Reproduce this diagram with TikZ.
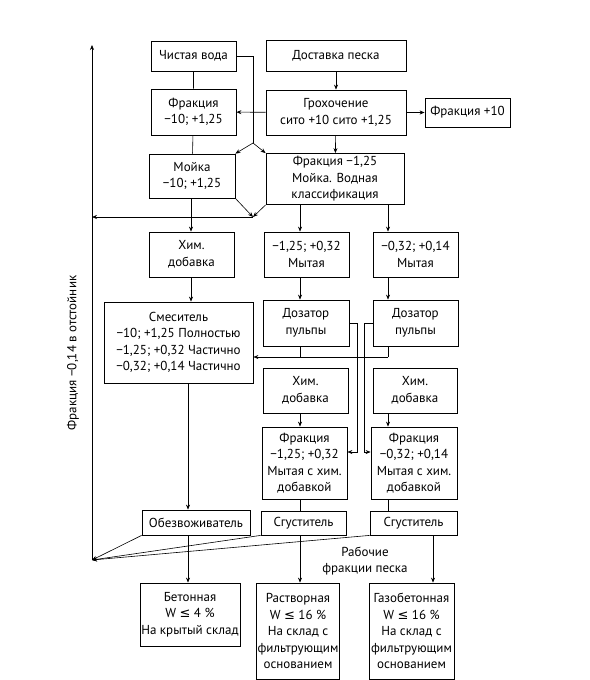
\documentclass[tikz,border=0pt]{standalone}
\usepackage{fontspec}
\setmainfont{PT Sans}
\newfontfamily\symfont{DejaVu Sans}
\usetikzlibrary{arrows.meta, calc}
\newcommand{\lesign}{{\symfont ≤}}

\begin{document}
\begin{tikzpicture}[x=1pt,y=-1pt,font=\fontsize{13}{16.5}\selectfont,
    blk/.style 2 args={draw, thick, align=center, inner sep=1pt, minimum width=#1pt, minimum height=#2pt},
    arr/.style={semithick, -{Stealth[length=5pt,width=4pt]}},
    ln/.style={semithick}]
    \useasboundingbox (0,0) rectangle (589,680);
    \node[blk={85}{30}] (voda) at (193.5,56) {Чистая вода};
    \node[blk={140}{31}] (dost) at (336,55.5) {Доставка песка};
    \node[blk={85}{46}] (frak10) at (193.5,112) {Фракция\\−10; +1,25};
    \node[blk={140}{45}] (groh) at (336,112.5) {Грохочение\\сито +10 сито +1,25};
    \node[blk={85}{29}] (frakp) at (467.5,112.5) {Фракция +10};
    \node[blk={86}{44}] (moika) at (192,176) {Мойка\\−10; +1,25};
    \node[blk={138}{51}] (klass) at (335,179) {Фракция −1,25\\Мойка. Водная\\классификация};
    \node[blk={85}{45}] (him1) at (191.5,254.5) {Хим.\\добавка};
    \node[blk={85}{45}] (myt1) at (306.5,254.5) {−1,25; +0,32\\Мытая};
    \node[blk={85}{45}] (myt2) at (415.5,254.5) {−0,32; +0,14\\Мытая};
    \node[blk={149}{81}] (smes) at (178.5,342.5) {Смеситель\\−10; +1,25 Полностью\\−1,25; +0,32 Частично\\−0,32; +0,14 Частично};
    \node[blk={86}{46}] (doz1) at (306,323) {Дозатор\\пульпы};
    \node[blk={85}{46}] (doz2) at (415.5,323) {Дозатор\\пульпы};
    \node[blk={85}{45}] (him2) at (305.5,390.5) {Хим.\\добавка};
    \node[blk={84}{45}] (him3) at (415,390.5) {Хим.\\добавка};
    \node[blk={85}{72}] (frakh1) at (304.5,463) {Фракция\\−1,25; +0,32\\Мытая с хим.\\добавкой};
    \node[blk={86}{72}] (frakh2) at (414,463) {Фракция\\−0,32; +0,14\\Мытая с хим.\\добавкой};
    \node[blk={108}{25}] (obezv) at (196,522.5) {Обезвоживатель};
    \node[blk={85}{24}] (sgust1) at (303.5,523) {Сгуститель};
    \node[blk={87}{24}] (sgust2) at (413.5,523) {Сгуститель};
    \node[blk={100}{63}] (beton) at (190,614.5) {Бетонная\\W \lesign{} 4 \%\\На крытый склад};
    \node[blk={78}{96}] (rastv) at (298,631) {Растворная\\W \lesign{} 16 \%\\На склад с\\фильтрующим\\основанием};
    \node[blk={85}{96}] (gazob) at (411.5,631) {Газобетонная\\W \lesign{} 16 \%\\На склад с\\фильтрующим\\основанием};
    \node (rab) at (365,561) [align=center] {Рабочие\\фракции песка};
    \node[rotate=90] (otst) at (73,353) {Фракция −0,14 в отстойник};
    \coordinate (vs) at (253,143);
    \coordinate (ms) at (253,217);
    \coordinate (ot) at (92,560);
    \coordinate (otop) at (92,45);
    \coordinate (xa) at (191,0);
    \coordinate (xe) at (188,0);
    \coordinate (xb) at (300,0);
    \coordinate (xc) at (388,0);
    \coordinate (xd) at (433,0);
    \coordinate (dj) at (388,357);
    \coordinate (p1) at (357,452);
    \coordinate (p2) at (364,452);
    \draw[arr] (dost) -- (groh);
    \draw[arr] (groh) -- (frak10);
    \draw[arr] (groh) -- (frakp);
    \draw[arr] (groh) -- (klass);
    \draw[ln] (voda) -- (frak10) -- (moika);
    \draw[ln] (voda.east) -| (vs);
    \draw[arr] (vs) -- (moika.north east);
    \draw[arr] (vs) -- (klass.north west);
    \draw[arr] (moika.south east) -- (ms);
    \draw[arr] (klass.south west) -- (ms);
    \draw[arr] (ms) -- (ms -| ot);
    \draw[arr] (moika.south -| xa) -- (him1.north -| xa);
    \draw[arr] (him1.south -| xa) -- (smes.north -| xa);
    \draw[arr] (klass.south -| xb) -- (myt1.north -| xb);
    \draw[arr] (klass.south -| xc) -- (myt2.north -| xc);
    \draw[arr] (myt1.south -| xb) -- (doz1.north -| xb);
    \draw[arr] (myt2.south -| xc) -- (doz2.north -| xc);
    \draw[ln] (doz1.south -| xb) -- (dj -| xb);
    \draw[ln] (doz2.south -| dj) -- (dj);
    \draw[arr] (dj) -- (dj -| smes.east);
    \draw[arr] (doz1.east) -| (p1) -- (p1 -| frakh1.east);
    \draw[arr] (doz2.west) -| (p2) -- (p2 -| frakh2.west);
    \draw[arr] (him2.south -| xb) -- (frakh1.north -| xb);
    \draw[arr] (him3.south -| xc) -- (frakh2.north -| xc);
    \draw[ln] (frakh1.south -| xb) -- (sgust1.north -| xb);
    \draw[ln] (frakh2.south -| xc) -- (sgust2.north -| xc);
    \draw[arr] (smes.south -| xe) -- (obezv.north -| xe);
    \draw[arr] (obezv.south west) -- (ot);
    \draw[arr] (sgust1.south west) -- (ot);
    \draw[arr] (sgust2.south west) -- (ot);
    \draw[arr] (ot) -- (otop);
    \draw[arr] (obezv.south -| xe) -- (beton.north -| xe);
    \draw[arr] (sgust1.south -| xb) -- (rastv.north -| xb);
    \draw[arr] (sgust2.south -| xd) -- (gazob.north -| xd);
\end{tikzpicture}
\end{document}
